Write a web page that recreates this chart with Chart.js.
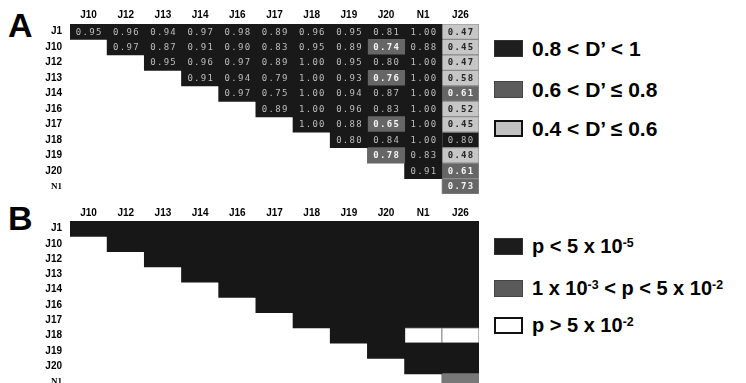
<!DOCTYPE html>
<html><head><meta charset="utf-8">
<script src="https://cdn.jsdelivr.net/npm/chart.js@4/dist/chart.umd.min.js"></script>
<style>
html,body{margin:0;padding:0;background:#fff;width:746px;height:383px;overflow:hidden;position:relative;font-family:'Liberation Sans',Arial,sans-serif;color:#000;}
canvas{position:absolute;left:0;}
#ca{top:0;}
#cb{top:196px;}
.big{position:absolute;font-weight:bold;font-size:34px;line-height:34px;}
.lg{position:absolute;left:494px;height:21px;display:flex;align-items:center;font-weight:bold;white-space:nowrap;}
.lg .bx{width:29px;height:17px;box-sizing:border-box;margin-right:9px;flex:none;}
.lg sup{font-size:0.62em;position:relative;top:-0.5em;vertical-align:baseline;line-height:0;}
</style></head>
<body>
<div class="big" style="left:8px;top:8px;">A</div>
<div class="big" style="left:8px;top:201px;">B</div>
<canvas id="ca" width="490" height="200"></canvas>
<canvas id="cb" width="490" height="200"></canvas>

<div class="lg" style="top:38px;font-size:21px;"><div class="bx" style="background:#1e1e1e;border:1px solid #333;"></div><span>0.8 &lt; D’ &lt; 1</span></div>
<div class="lg" style="top:79px;font-size:21px;"><div class="bx" style="background:#5c5c5c;border:1px solid #444;"></div><span>0.6 &lt; D’ ≤ 0.8</span></div>
<div class="lg" style="top:118px;font-size:21px;"><div class="bx" style="background:#c2c2c2;border:2px solid #111;"></div><span>0.4 &lt; D’ ≤ 0.6</span></div>

<div class="lg" style="top:236px;font-size:20px;"><div class="bx" style="background:#1c1c1c;border:1px solid #333;"></div><span>p &lt; 5 x 10<sup>-5</sup></span></div>
<div class="lg" style="top:278px;font-size:20px;"><div class="bx" style="background:#5a5a5a;border:1px solid #444;"></div><span>1 x 10<sup>-3</sup> &lt; p &lt; 5 x 10<sup>-2</sup></span></div>
<div class="lg" style="top:315px;font-size:20px;"><div class="bx" style="background:#fff;border:2px solid #111;"></div><span>p &gt; 5 x 10<sup>-2</sup></span></div>

<script>
// ---- data ----
const colLabels = ['J10','J12','J13','J14','J16','J17','J18','J19','J20','N1','J26'];
const rowLabels = ['J1','J10','J12','J13','J14','J16','J17','J18','J19','J20','N1'];

// Panel A: D' values, row r starts at column r
const dPrime = [
  [0.95,0.96,0.94,0.97,0.98,0.89,0.96,0.95,0.81,1.00,0.47],
  [0.97,0.87,0.91,0.90,0.83,0.95,0.89,0.74,0.88,0.45],
  [0.95,0.96,0.97,0.89,1.00,0.95,0.80,1.00,0.47],
  [0.91,0.94,0.79,1.00,0.93,0.76,1.00,0.58],
  [0.97,0.75,1.00,0.94,0.87,1.00,0.61],
  [0.89,1.00,0.96,0.83,1.00,0.52],
  [1.00,0.88,0.65,1.00,0.45],
  [0.80,0.84,1.00,0.80],
  [0.78,0.83,0.48],
  [0.91,0.61],
  [0.73]
];
// Panel A classes: h = 0.8<D'<1, m = 0.6<D'<=0.8, l = 0.4<D'<=0.6
const dPrimeClass = [
  'hhhhhhhhhhl',
  'hhhhhhhmhl',
  'hhhhhhhhl',
  'hhhhhmhl',
  'hhhhhhm',
  'hhhhhl',
  'hhmhl',
  'hhhh',
  'mhl',
  'hm',
  'm'
];
// Panel B classes: a = p<5e-5, b = 1e-3<p<5e-2, c = p>5e-2
const pClass = [
  'aaaaaaaaaaa',
  'aaaaaaaaaa',
  'aaaaaaaaa',
  'aaaaaaaa',
  'aaaaaaa',
  'aaaaaa',
  'aaaaa',
  'aacc',
  'aaa',
  'aa',
  'b'
];

const fillA = {h:'#191919', m:'#666666', l:'#c6c6c6'};
const textA = {h:'#bdbdbd', m:'#f4f4f4', l:'#262626'};
const fillB = {a:'#171717', b:'#787878', c:'#ffffff'};

function buildDatasets(classes, fills, values, panelB) {
  const n = colLabels.length;
  return colLabels.map((col, c) => {
    const data = [], bg = [], bc = [], bw = [], txt = [], cls = [];
    rowLabels.forEach((row, r) => {
      if (r <= c) {
        const k = classes[r][c - r];
        data.push([c, c + 1]);
        bg.push(fills[k]);
        const last = c === n - 1;
        if (k === 'c') { bc.push('#8a8a8a'); bw.push(1); }
        else if (last && !panelB) { bc.push('#8a8a8a'); bw.push(1); }
        else { bc.push(fills[k]); bw.push(0); }
        txt.push(values ? values[r][c - r].toFixed(2) : null);
        cls.push(k);
      } else {
        data.push(null); bg.push('rgba(0,0,0,0)'); bc.push('rgba(0,0,0,0)'); bw.push(0); txt.push(null); cls.push(null);
      }
    });
    return {label: col, data, backgroundColor: bg, borderColor: bc, borderWidth: bw,
            borderSkipped: false, grouped: false, barPercentage: 1, categoryPercentage: 1,
            inflateAmount: 0.4,
            cellText: txt, cellClass: cls};
  });
}

const cellTextPlugin = {
  id: 'cellTextPlugin',
  afterDatasetsDraw(chart) {
    const ctx = chart.ctx;
    ctx.save();
    ctx.textAlign = 'center';
    ctx.textBaseline = 'middle';
    chart.data.datasets.forEach((ds, c) => {
      if (!ds.cellText) return;
      const meta = chart.getDatasetMeta(c);
      meta.data.forEach((el, r) => {
        const t = ds.cellText[r];
        if (t == null) return;
        const k = ds.cellClass[r];
        const p = el.getCenterPoint();
        ctx.font = (k === 'h' ? '' : 'bold ') + '9px "DejaVu Sans Mono", monospace';
        try { ctx.letterSpacing = '1.3px'; } catch(e) {}
        ctx.fillStyle = textA[k];
        ctx.fillText(t, p.x + 0.7, p.y + 0.5);
      });
    });
    ctx.restore();
  }
};

function makeChart(id, datasets, axisH, tickPad, padBottom) {
  return new Chart(document.getElementById(id), {
    type: 'bar',
    data: {labels: rowLabels, datasets},
    plugins: [cellTextPlugin],
    options: {
      indexAxis: 'y',
      responsive: false,
      animation: false,
      devicePixelRatio: 1,
      layout: {padding: {left: 0, right: 11, top: 0, bottom: padBottom}},
      plugins: {legend: {display: false}, tooltip: {enabled: false}},
      scales: {
        x: {
          type: 'linear', position: 'top', min: 0, max: colLabels.length,
          grid: {display: false, drawTicks: false}, border: {display: false},
          afterBuildTicks: s => { s.ticks = colLabels.map((c, i) => ({value: i + 0.5})); },
          afterFit: s => { s.height = axisH; s.paddingLeft = 0; s.paddingRight = 0; },
          ticks: {autoSkip: false, maxRotation: 0, padding: tickPad, color: '#000',
                  font: {family: '"Liberation Sans", Arial, sans-serif', size: 10, weight: 'bold'},
                  callback: (v, i) => colLabels[i]}
        },
        y: {
          type: 'category',
          grid: {display: false, drawTicks: false}, border: {display: false},
          afterFit: s => { s.width = 70; s.paddingTop = 0; s.paddingBottom = 0; },
          ticks: {padding: 8, color: '#000', autoSkip: false,
                  font: ctx => ctx.index === rowLabels.length - 1
                    ? {family: '"Liberation Serif", "Times New Roman", serif', size: 9, weight: 'bold'}
                    : {family: '"Liberation Sans", Arial, sans-serif', size: 10, weight: 'bold'}}
        }
      }
    }
  });
}

makeChart('ca', buildDatasets(dPrimeClass, fillA, dPrime, false), 24, 3, 6);
makeChart('cb', buildDatasets(pClass, fillB, null, true), 25, 2, 7);
</script>
</body></html>
